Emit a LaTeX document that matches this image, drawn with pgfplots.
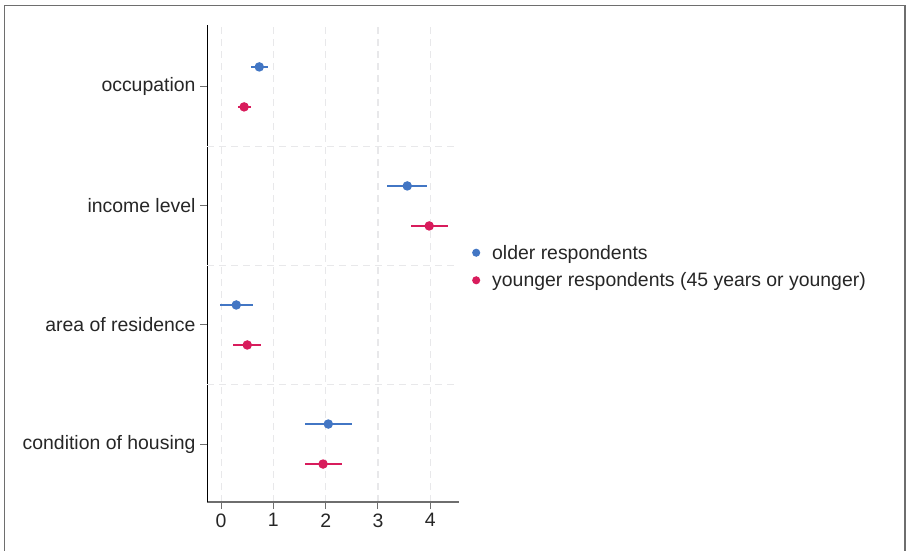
\documentclass[border=0pt]{standalone}
\usepackage{pgfplots}
\pgfplotsset{compat=1.18}
\usepackage{pgfplotstable}
\usepackage{fontspec}
\setmainfont{Liberation Sans}
\definecolor{cblue}{RGB}{66,118,196}
\definecolor{cred}{RGB}{216,28,92}
\definecolor{gridc}{RGB}{232,232,234}
\definecolor{axc}{RGB}{110,110,110}
% y: occupation=4, income=3, area=2, housing=1 ; older +0.168, younger -0.168
\pgfplotstableread{
x y em ep
0.73 4.168 0.16 0.17
3.56 3.168 0.39 0.38
0.29 2.168 0.31 0.32
2.05 1.168 0.44 0.45
}\older
\pgfplotstableread{
x y em ep
0.44 3.832 0.11 0.13
3.98 2.832 0.35 0.36
0.50 1.832 0.27 0.26
1.95 0.832 0.34 0.36
}\younger
\begin{document}
\begin{tikzpicture}[x=1bp,y=1bp]
\path[use as bounding box] (0,0) rectangle (906,-551);
\draw[axc, line width=1.2bp] (4.5,-600) -- (4.5,-5.5) -- (905,-5.5) -- (905,-600);
\begin{axis}[
  at={(207bp,-502bp)}, anchor=south west,
  scale only axis, width=252bp, height=477bp,
  xmin=-0.27, xmax=4.55, ymin=0.513, ymax=4.52,
  axis lines=left, axis line style={-},
  x axis line style={axc, line width=1.5bp},
  y axis line style={black, line width=0.8bp},
  xtick={0,1,2,3,4}, ytick={1,2,3,4},
  yticklabels={condition of housing, area of residence, income level, occupation},
  tick style={axc, line width=1bp},
  tick align=outside, major tick length=7bp,
  /pgf/number format/assume math mode=true,
  ticklabel style={font=\fontsize{19.5}{22}\selectfont, text=black!85},
  yticklabel style={xshift=-1bp},
  xticklabel style={yshift=-1bp},
  xmajorgrids, grid style={gridc, dash pattern=on 7bp off 5bp, line width=1.2bp},
  extra y ticks={1.5,2.5,3.5}, extra y tick labels={},
  extra y tick style={major tick length=0pt, ymajorgrids, grid style={gridc, dash pattern=on 7bp off 5bp, line width=1.2bp}},
  clip=false,
  legend style={at={(1,0.5)}, anchor=west, draw=none, fill=none,
    font=\fontsize{19.5}{22}\selectfont, xshift=10bp, yshift=-3bp, row sep=8bp,
    legend cell align=left, text=black!85},
  legend image code/.code={\path[draw=none,fill=none] (-4bp,0) -- (14bp,0); \fill (0,0) circle (3.3bp);},
]
\addplot[cblue, line width=1.4bp, only marks, mark=*, mark size=4bp,
  error bars/.cd, x dir=both, x explicit, error mark=none,
  error bar style={cblue, line width=1.4bp}]
  table[x=x, y=y, x error minus=em, x error plus=ep] {\older};
\addlegendentry{older respondents}
\addplot[cred, line width=1.4bp, only marks, mark=*, mark size=4bp,
  error bars/.cd, x dir=both, x explicit, error mark=none,
  error bar style={cred, line width=1.4bp}]
  table[x=x, y=y, x error minus=em, x error plus=ep] {\younger};
\addlegendentry{younger respondents (45 years or younger)}
\end{axis}
\end{tikzpicture}
\end{document}
